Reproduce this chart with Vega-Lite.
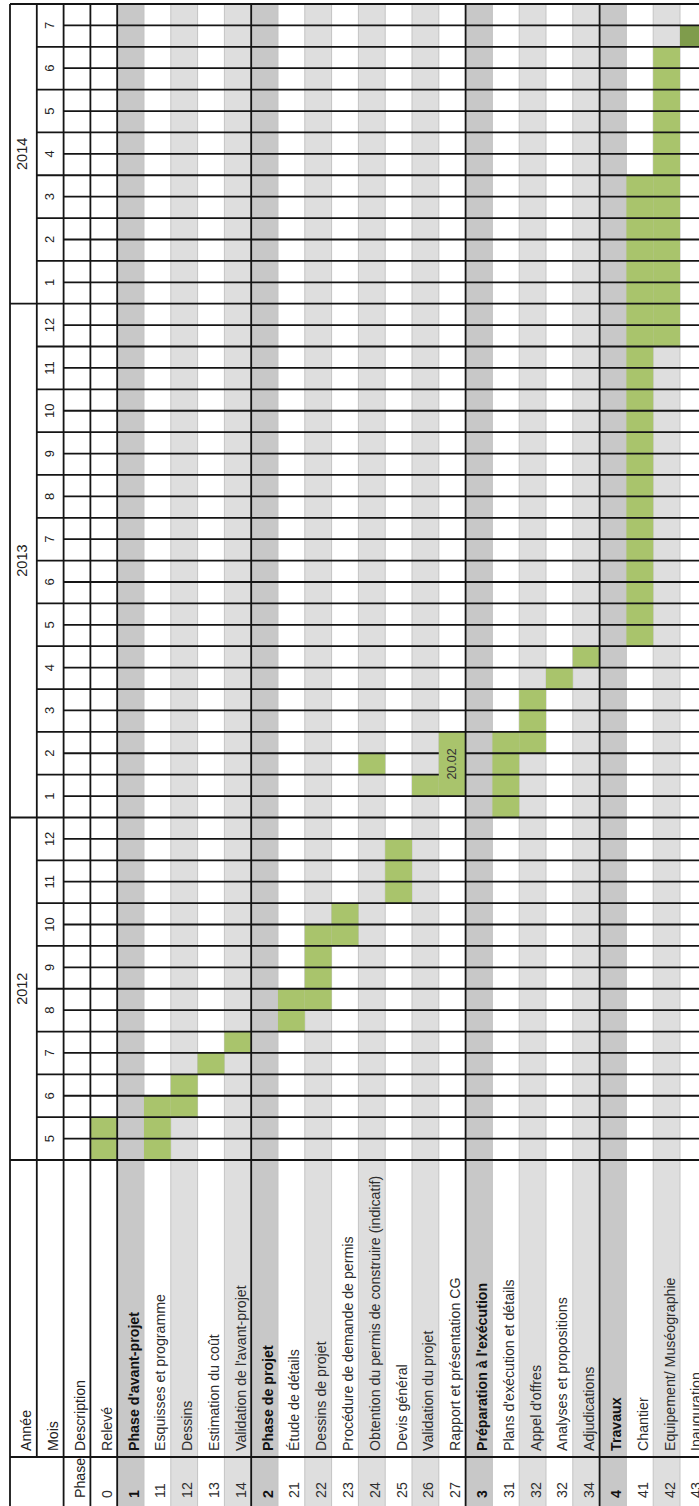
{
  "$schema": "https://vega.github.io/schema/vega-lite/v6.json",
  "width": 699,
  "height": 1506,
  "autosize": {"type": "none"},
  "padding": 0,
  "background": "white",
  "config": {"view": {"stroke": null}},
  "datasets": {
    "rows": [
      {"col": 3, "col_end": 4, "code": "0", "label": "Relevé", "level": "task", "shade": "white"},
      {"col": 4, "col_end": 5, "code": "1", "label": "Phase d'avant-projet", "level": "phase", "shade": "dark"},
      {"col": 5, "col_end": 6, "code": "11", "label": "Esquisses et programme", "level": "task", "shade": "white"},
      {"col": 6, "col_end": 7, "code": "12", "label": "Dessins", "level": "task", "shade": "light"},
      {"col": 7, "col_end": 8, "code": "13", "label": "Estimation du coût", "level": "task", "shade": "white"},
      {"col": 8, "col_end": 9, "code": "14", "label": "Validation de l'avant-projet", "level": "task", "shade": "light"},
      {"col": 9, "col_end": 10, "code": "2", "label": "Phase de projet", "level": "phase", "shade": "dark"},
      {"col": 10, "col_end": 11, "code": "21", "label": "Étude de détails", "level": "task", "shade": "white"},
      {"col": 11, "col_end": 12, "code": "22", "label": "Dessins de projet", "level": "task", "shade": "light"},
      {"col": 12, "col_end": 13, "code": "23", "label": "Procédure de demande de permis", "level": "task", "shade": "white"},
      {"col": 13, "col_end": 14, "code": "24", "label": "Obtention du permis de construire (indicatif)", "level": "task", "shade": "light"},
      {"col": 14, "col_end": 15, "code": "25", "label": "Devis général", "level": "task", "shade": "white"},
      {"col": 15, "col_end": 16, "code": "26", "label": "Validation du projet", "level": "task", "shade": "light"},
      {"col": 16, "col_end": 17, "code": "27", "label": "Rapport et présentation CG", "level": "task", "shade": "white"},
      {"col": 17, "col_end": 18, "code": "3", "label": "Préparation à l'exécution", "level": "phase", "shade": "dark"},
      {"col": 18, "col_end": 19, "code": "31", "label": "Plans d'exécution et détails", "level": "task", "shade": "white"},
      {"col": 19, "col_end": 20, "code": "32", "label": "Appel d'offres", "level": "task", "shade": "light"},
      {"col": 20, "col_end": 21, "code": "32", "label": "Analyses et propositions", "level": "task", "shade": "white"},
      {"col": 21, "col_end": 22, "code": "34", "label": "Adjudications", "level": "task", "shade": "light"},
      {"col": 22, "col_end": 23, "code": "4", "label": "Travaux", "level": "phase", "shade": "dark"},
      {"col": 23, "col_end": 24, "code": "41", "label": "Chantier", "level": "task", "shade": "white"},
      {"col": 24, "col_end": 25, "code": "42", "label": "Equipement/ Muséographie", "level": "task", "shade": "light"},
      {"col": 25, "col_end": 26, "code": "43", "label": "Inauguration", "level": "task", "shade": "white"}
    ],
    "bars": [
      {"task": "Relevé", "col": 3, "col_end": 4, "start": 0, "end": 2, "kind": "task"},
      {"task": "Esquisses et programme", "col": 5, "col_end": 6, "start": 0, "end": 3, "kind": "task"},
      {"task": "Dessins", "col": 6, "col_end": 7, "start": 2, "end": 4, "kind": "task"},
      {"task": "Estimation du coût", "col": 7, "col_end": 8, "start": 4, "end": 5, "kind": "task"},
      {"task": "Validation de l'avant-projet", "col": 8, "col_end": 9, "start": 5, "end": 6, "kind": "task"},
      {"task": "Étude de détails", "col": 10, "col_end": 11, "start": 6, "end": 8, "kind": "task"},
      {"task": "Dessins de projet", "col": 11, "col_end": 12, "start": 7, "end": 11, "kind": "task"},
      {"task": "Procédure de demande de permis", "col": 12, "col_end": 13, "start": 10, "end": 12, "kind": "task"},
      {"task": "Obtention du permis de construire (indicatif)", "col": 13, "col_end": 14, "start": 18, "end": 19, "kind": "task"},
      {"task": "Devis général", "col": 14, "col_end": 15, "start": 12, "end": 15, "kind": "task"},
      {"task": "Validation du projet", "col": 15, "col_end": 16, "start": 17, "end": 18, "kind": "task"},
      {"task": "Rapport et présentation CG", "col": 16, "col_end": 17, "start": 17, "end": 20, "kind": "task"},
      {"task": "Plans d'exécution et détails", "col": 18, "col_end": 19, "start": 16, "end": 20, "kind": "task"},
      {"task": "Appel d'offres", "col": 19, "col_end": 20, "start": 19, "end": 22, "kind": "task"},
      {"task": "Analyses et propositions", "col": 20, "col_end": 21, "start": 22, "end": 23, "kind": "task"},
      {"task": "Adjudications", "col": 21, "col_end": 22, "start": 23, "end": 24, "kind": "task"},
      {"task": "Chantier", "col": 23, "col_end": 24, "start": 24, "end": 46, "kind": "task"},
      {"task": "Equipement/ Muséographie", "col": 24, "col_end": 25, "start": 38, "end": 52, "kind": "task"},
      {"task": "Inauguration", "col": 25, "col_end": 26, "start": 52, "end": 53, "kind": "final"}
    ],
    "hlines": [
      {"v": 0, "from": 0, "to": 26}, {"v": 1, "from": 2, "to": 26}, {"v": 2, "from": 1, "to": 26},
      {"v": 3, "from": 2, "to": 26}, {"v": 4, "from": 1, "to": 26}, {"v": 5, "from": 2, "to": 26},
      {"v": 6, "from": 1, "to": 26}, {"v": 7, "from": 2, "to": 26}, {"v": 8, "from": 1, "to": 26},
      {"v": 9, "from": 2, "to": 26}, {"v": 10, "from": 1, "to": 26}, {"v": 11, "from": 2, "to": 26},
      {"v": 12, "from": 1, "to": 26}, {"v": 13, "from": 2, "to": 26}, {"v": 14, "from": 1, "to": 26},
      {"v": 15, "from": 2, "to": 26}, {"v": 16, "from": 0, "to": 26}, {"v": 17, "from": 2, "to": 26},
      {"v": 18, "from": 1, "to": 16}, {"v": 18, "from": 17, "to": 26},
      {"v": 19, "from": 2, "to": 16}, {"v": 19, "from": 17, "to": 26},
      {"v": 20, "from": 1, "to": 26}, {"v": 21, "from": 2, "to": 26}, {"v": 22, "from": 1, "to": 26},
      {"v": 23, "from": 2, "to": 26}, {"v": 24, "from": 1, "to": 26}, {"v": 25, "from": 2, "to": 26},
      {"v": 26, "from": 1, "to": 26}, {"v": 27, "from": 2, "to": 26}, {"v": 28, "from": 1, "to": 26},
      {"v": 29, "from": 2, "to": 26}, {"v": 30, "from": 1, "to": 26}, {"v": 31, "from": 2, "to": 26},
      {"v": 32, "from": 1, "to": 26}, {"v": 33, "from": 2, "to": 26}, {"v": 34, "from": 1, "to": 26},
      {"v": 35, "from": 2, "to": 26}, {"v": 36, "from": 1, "to": 26}, {"v": 37, "from": 2, "to": 26},
      {"v": 38, "from": 1, "to": 26}, {"v": 39, "from": 2, "to": 26}, {"v": 40, "from": 0, "to": 26},
      {"v": 41, "from": 2, "to": 26}, {"v": 42, "from": 1, "to": 26}, {"v": 43, "from": 2, "to": 26},
      {"v": 44, "from": 1, "to": 26}, {"v": 45, "from": 2, "to": 26}, {"v": 46, "from": 1, "to": 26},
      {"v": 47, "from": 2, "to": 26}, {"v": 48, "from": 1, "to": 26}, {"v": 49, "from": 2, "to": 26},
      {"v": 50, "from": 1, "to": 26}, {"v": 51, "from": 2, "to": 26}, {"v": 52, "from": 1, "to": 26},
      {"v": 53, "from": 2, "to": 26}, {"v": 54, "from": 0, "to": 26},
      {"v": -13.874, "from": 0, "to": 26}
    ],
    "vlines": [
      {"c": 0, "lo": -17, "hi": 54}, {"c": 1, "lo": -13.874, "hi": 54}, {"c": 2, "lo": -17, "hi": 54},
      {"c": 3, "lo": -17, "hi": 54}, {"c": 4, "lo": -17, "hi": 54}, {"c": 9, "lo": -17, "hi": 54},
      {"c": 17, "lo": -17, "hi": 54}, {"c": 22, "lo": -17, "hi": 54}, {"c": 26, "lo": -17, "hi": 54}
    ],
    "years": [
      {"year": "2012", "mid": 8}, {"year": "2013", "mid": 28}, {"year": "2014", "mid": 47}
    ],
    "months": [
      {"m": "5", "mid": 1}, {"m": "6", "mid": 3}, {"m": "7", "mid": 5}, {"m": "8", "mid": 7},
      {"m": "9", "mid": 9}, {"m": "10", "mid": 11}, {"m": "11", "mid": 13}, {"m": "12", "mid": 15},
      {"m": "1", "mid": 17}, {"m": "2", "mid": 19}, {"m": "3", "mid": 21}, {"m": "4", "mid": 23},
      {"m": "5", "mid": 25}, {"m": "6", "mid": 27}, {"m": "7", "mid": 29}, {"m": "8", "mid": 31},
      {"m": "9", "mid": 33}, {"m": "10", "mid": 35}, {"m": "11", "mid": 37}, {"m": "12", "mid": 39},
      {"m": "1", "mid": 41}, {"m": "2", "mid": 43}, {"m": "3", "mid": 45}, {"m": "4", "mid": 47},
      {"m": "5", "mid": 49}, {"m": "6", "mid": 51}, {"m": "7", "mid": 53}
    ],
    "headers": [
      {"t": "Année", "c": 0}, {"t": "Mois", "c": 1}, {"t": "Description", "c": 2}
    ],
    "notes": [
      {"note": "20.02", "col": 16, "mid": 18.5}
    ]
  },
  "layer": [
    {
      "data": {"name": "rows"},
      "transform": [{"filter": "datum.shade != 'white'"}],
      "mark": {"type": "rect", "stroke": "#c4c4c4", "strokeWidth": 1, "clip": true},
      "encoding": {
        "x": {"field": "col", "type": "quantitative", "scale": {"domain": [-0.3731, 25.709], "nice": false, "zero": false}, "axis": null},
        "x2": {"field": "col_end"},
        "y": {"datum": 54, "type": "quantitative", "scale": {"domain": [-16.163, 54.187], "nice": false, "zero": false}, "axis": null},
        "y2": {"datum": -17},
        "color": {"field": "shade", "type": "nominal", "scale": {"domain": ["dark", "light"], "range": ["#c8c8c8", "#dedede"]}, "legend": null}
      }
    },
    {
      "data": {"name": "bars"},
      "mark": {"type": "rect", "clip": true},
      "encoding": {
        "x": {"field": "col", "type": "quantitative", "scale": {"domain": [-0.3731, 25.709], "nice": false, "zero": false}, "axis": null},
        "x2": {"field": "col_end"},
        "y": {"field": "start", "type": "quantitative", "scale": {"domain": [-16.163, 54.187], "nice": false, "zero": false}, "axis": null},
        "y2": {"field": "end"},
        "fill": {"field": "kind", "type": "nominal", "scale": {"domain": ["task", "final"], "range": ["#a9c46c", "#7f9c4c"]}, "legend": null}
      }
    },
    {
      "data": {"name": "hlines"},
      "mark": {"type": "rule", "color": "#151515", "strokeWidth": 1.8, "clip": true},
      "encoding": {
        "x": {"field": "from", "type": "quantitative", "scale": {"domain": [-0.3731, 25.709], "nice": false, "zero": false}, "axis": null},
        "x2": {"field": "to"},
        "y": {"field": "v", "type": "quantitative", "scale": {"domain": [-16.163, 54.187], "nice": false, "zero": false}, "axis": null}
      }
    },
    {
      "data": {"name": "vlines"},
      "mark": {"type": "rule", "color": "#151515", "strokeWidth": 1.8, "clip": true},
      "encoding": {
        "x": {"field": "c", "type": "quantitative", "scale": {"domain": [-0.3731, 25.709], "nice": false, "zero": false}, "axis": null},
        "y": {"field": "lo", "type": "quantitative", "scale": {"domain": [-16.163, 54.187], "nice": false, "zero": false}, "axis": null},
        "y2": {"field": "hi"}
      }
    },
    {
      "data": {"name": "years"},
      "mark": {"type": "text", "angle": 270, "align": "center", "baseline": "middle", "dy": 13.4, "font": "Liberation Sans", "fontSize": 14.5, "color": "#222222"},
      "encoding": {
        "x": {"datum": 0, "type": "quantitative", "scale": {"domain": [-0.3731, 25.709], "nice": false, "zero": false}, "axis": null},
        "y": {"field": "mid", "type": "quantitative", "scale": {"domain": [-16.163, 54.187], "nice": false, "zero": false}, "axis": null},
        "text": {"field": "year"}
      }
    },
    {
      "data": {"name": "months"},
      "mark": {"type": "text", "angle": 270, "align": "center", "baseline": "middle", "dy": 13.4, "font": "Liberation Sans", "fontSize": 13, "color": "#222222"},
      "encoding": {
        "x": {"datum": 1, "type": "quantitative", "scale": {"domain": [-0.3731, 25.709], "nice": false, "zero": false}, "axis": null},
        "y": {"field": "mid", "type": "quantitative", "scale": {"domain": [-16.163, 54.187], "nice": false, "zero": false}, "axis": null},
        "text": {"field": "m"}
      }
    },
    {
      "data": {"name": "headers"},
      "mark": {"type": "text", "angle": 270, "align": "left", "baseline": "alphabetic", "dy": 21.5, "font": "Liberation Sans", "fontSize": 14.2, "color": "#222222"},
      "encoding": {
        "x": {"field": "c", "type": "quantitative", "scale": {"domain": [-0.3731, 25.709], "nice": false, "zero": false}, "axis": null},
        "y": {"datum": -13.594, "type": "quantitative", "scale": {"domain": [-16.163, 54.187], "nice": false, "zero": false}, "axis": null},
        "text": {"field": "t"}
      }
    },
    {
      "data": {"values": [{"t": "Phase", "c": 2}]},
      "mark": {"type": "text", "angle": 270, "align": "left", "baseline": "alphabetic", "dy": 21.5, "font": "Liberation Sans", "fontSize": 14.2, "color": "#222222"},
      "encoding": {
        "x": {"field": "c", "type": "quantitative", "scale": {"domain": [-0.3731, 25.709], "nice": false, "zero": false}, "axis": null},
        "y": {"datum": -15.79, "type": "quantitative", "scale": {"domain": [-16.163, 54.187], "nice": false, "zero": false}, "axis": null},
        "text": {"field": "t"}
      }
    },
    {
      "data": {"name": "rows"},
      "transform": [{"filter": "datum.level == 'task'"}],
      "mark": {"type": "text", "angle": 270, "align": "left", "baseline": "alphabetic", "dy": 21.5, "font": "Liberation Sans", "fontSize": 14.2, "color": "#2e2e2e"},
      "encoding": {
        "x": {"field": "col", "type": "quantitative", "scale": {"domain": [-0.3731, 25.709], "nice": false, "zero": false}, "axis": null},
        "y": {"datum": -13.594, "type": "quantitative", "scale": {"domain": [-16.163, 54.187], "nice": false, "zero": false}, "axis": null},
        "text": {"field": "label"}
      }
    },
    {
      "data": {"name": "rows"},
      "transform": [{"filter": "datum.level == 'phase'"}],
      "mark": {"type": "text", "angle": 270, "align": "left", "baseline": "alphabetic", "dy": 21.5, "font": "Liberation Sans", "fontSize": 14.2, "fontWeight": "bold", "color": "#111111"},
      "encoding": {
        "x": {"field": "col", "type": "quantitative", "scale": {"domain": [-0.3731, 25.709], "nice": false, "zero": false}, "axis": null},
        "y": {"datum": -13.594, "type": "quantitative", "scale": {"domain": [-16.163, 54.187], "nice": false, "zero": false}, "axis": null},
        "text": {"field": "label"}
      }
    },
    {
      "data": {"name": "rows"},
      "transform": [{"filter": "datum.level == 'task'"}],
      "mark": {"type": "text", "angle": 270, "align": "left", "baseline": "alphabetic", "dy": 21.5, "font": "Liberation Sans", "fontSize": 14.2, "color": "#2e2e2e"},
      "encoding": {
        "x": {"field": "col", "type": "quantitative", "scale": {"domain": [-0.3731, 25.709], "nice": false, "zero": false}, "axis": null},
        "y": {"datum": -15.79, "type": "quantitative", "scale": {"domain": [-16.163, 54.187], "nice": false, "zero": false}, "axis": null},
        "text": {"field": "code"}
      }
    },
    {
      "data": {"name": "rows"},
      "transform": [{"filter": "datum.level == 'phase'"}],
      "mark": {"type": "text", "angle": 270, "align": "left", "baseline": "alphabetic", "dy": 21.5, "font": "Liberation Sans", "fontSize": 14.2, "fontWeight": "bold", "color": "#111111"},
      "encoding": {
        "x": {"field": "col", "type": "quantitative", "scale": {"domain": [-0.3731, 25.709], "nice": false, "zero": false}, "axis": null},
        "y": {"datum": -15.79, "type": "quantitative", "scale": {"domain": [-16.163, 54.187], "nice": false, "zero": false}, "axis": null},
        "text": {"field": "code"}
      }
    },
    {
      "data": {"name": "notes"},
      "mark": {"type": "text", "angle": 270, "align": "center", "baseline": "middle", "dy": 13.4, "font": "Liberation Sans", "fontSize": 12.5, "color": "#333333"},
      "encoding": {
        "x": {"field": "col", "type": "quantitative", "scale": {"domain": [-0.3731, 25.709], "nice": false, "zero": false}, "axis": null},
        "y": {"field": "mid", "type": "quantitative", "scale": {"domain": [-16.163, 54.187], "nice": false, "zero": false}, "axis": null},
        "text": {"field": "note"}
      }
    }
  ]
}
